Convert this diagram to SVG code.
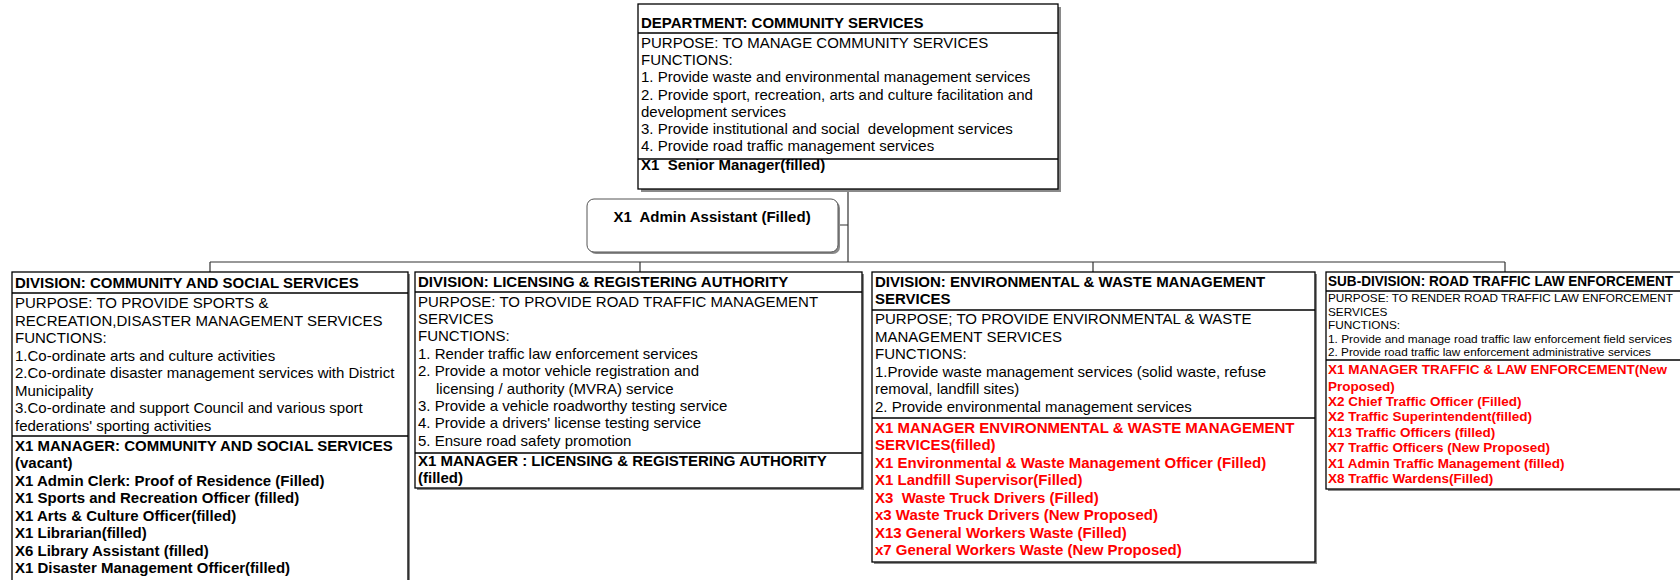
<svg xmlns="http://www.w3.org/2000/svg" width="1680" height="580" viewBox="0 0 1680 580">
<style>
.box{fill:#fff;stroke:#000;stroke-width:1.3}
.sh{fill:#8a8a8a}
.dv{stroke:#000;stroke-width:1.3;fill:none}
.cn{stroke:#333;stroke-width:1.2;fill:none}
text{font-family:"Liberation Sans",Arial,sans-serif;font-size:15px;fill:#000}
.b{font-weight:bold}
.r{font-weight:bold;fill:#f00}
.s{font-size:11.8px}
.rs{font-size:13.5px}
</style>
<rect width="1680" height="580" fill="#fff"/>
<g id="connectors">
<path class="cn" d="M848 190V262M838 225H848M210 262H1505M210 262V272M640 262V272M1093 262V272M1505 262V272"/>
</g>
<g id="dept">
<rect class="sh" x="641" y="7" width="420" height="185"/>
<rect class="box" x="638" y="4" width="420" height="185"/>
<path class="dv" d="M638 33H1058M638 159H1058"/>
<text class="b" x="641" y="27.5">DEPARTMENT: COMMUNITY SERVICES</text>
<text x="641" y="48">PURPOSE: TO MANAGE COMMUNITY SERVICES</text>
<text x="641" y="65.2">FUNCTIONS:</text>
<text x="641" y="82.4">1. Provide waste and environmental management services</text>
<text x="641" y="99.6">2. Provide sport, recreation, arts and culture facilitation and</text>
<text x="641" y="116.8">development services</text>
<text x="641" y="134" xml:space="preserve">3. Provide institutional and social  development services</text>
<text x="641" y="151.2">4. Provide road traffic management services</text>
<text class="b" x="641" y="170" xml:space="preserve">X1  Senior Manager(filled)</text>
</g>
<g id="admin">
<rect class="sh" x="589" y="201" width="251" height="53" rx="7"/>
<rect x="587" y="199" width="251" height="53" rx="7" fill="#fff" stroke="#555" stroke-width="1"/>
<text class="b" x="712" y="222" text-anchor="middle" xml:space="preserve">X1  Admin Assistant (Filled)</text>
</g>
<g id="div-community">
<rect class="sh" x="14" y="274" width="396" height="320"/>
<rect class="box" x="12" y="272" width="396" height="320"/>
<path class="dv" d="M12 293H408M12 436H408"/>
<text class="b" x="15" y="288">DIVISION: COMMUNITY AND SOCIAL SERVICES</text>
<text x="15" y="308">PURPOSE: TO PROVIDE SPORTS &amp;</text>
<text x="15" y="325.5">RECREATION,DISASTER MANAGEMENT SERVICES</text>
<text x="15" y="343">FUNCTIONS:</text>
<text x="15" y="360.5">1.Co-ordinate arts and culture activities</text>
<text x="15" y="378">2.Co-ordinate disaster management services with District</text>
<text x="15" y="395.5">Municipality</text>
<text x="15" y="413">3.Co-ordinate and support Council and various sport</text>
<text x="15" y="430.5">federations' sporting activities</text>
<text class="b" x="15" y="450.5">X1 MANAGER: COMMUNITY AND SOCIAL SERVICES</text>
<text class="b" x="15" y="468">(vacant)</text>
<text class="b" x="15" y="485.5">X1 Admin Clerk: Proof of Residence (Filled)</text>
<text class="b" x="15" y="503">X1 Sports and Recreation Officer (filled)</text>
<text class="b" x="15" y="520.5">X1 Arts &amp; Culture Officer(filled)</text>
<text class="b" x="15" y="538">X1 Librarian(filled)</text>
<text class="b" x="15" y="555.5">X6 Library Assistant (filled)</text>
<text class="b" x="15" y="573">X1 Disaster Management Officer(filled)</text>
</g>
<g id="div-licensing">
<rect class="sh" x="417" y="274" width="447" height="216"/>
<rect class="box" x="415" y="272" width="447" height="216"/>
<path class="dv" d="M415 292H862M415 453H862"/>
<text class="b" x="418" y="286.5">DIVISION: LICENSING &amp; REGISTERING AUTHORITY</text>
<text x="418" y="306.5">PURPOSE: TO PROVIDE ROAD TRAFFIC MANAGEMENT</text>
<text x="418" y="324">SERVICES</text>
<text x="418" y="341.3">FUNCTIONS:</text>
<text x="418" y="358.7">1. Render traffic law enforcement services</text>
<text x="418" y="376">2. Provide a motor vehicle registration and</text>
<text x="436" y="393.5">licensing / authority (MVRA) service</text>
<text x="418" y="411">3. Provide a vehicle roadworthy testing service</text>
<text x="418" y="428.3">4. Provide a drivers' license testing service</text>
<text x="418" y="445.7">5. Ensure road safety promotion</text>
<text class="b" x="418" y="465.5">X1 MANAGER : LICENSING &amp; REGISTERING AUTHORITY</text>
<text class="b" x="418" y="483">(filled)</text>
</g>
<g id="div-environment">
<rect class="sh" x="874" y="274" width="443" height="290"/>
<rect class="box" x="872" y="272" width="443" height="290"/>
<path class="dv" d="M872 310H1315M872 418H1315"/>
<text class="b" x="875" y="286.5">DIVISION: ENVIRONMENTAL &amp; WASTE MANAGEMENT</text>
<text class="b" x="875" y="304">SERVICES</text>
<text x="875" y="324">PURPOSE; TO PROVIDE ENVIRONMENTAL &amp; WASTE</text>
<text x="875" y="341.5">MANAGEMENT SERVICES</text>
<text x="875" y="359">FUNCTIONS:</text>
<text x="875" y="376.5">1.Provide waste management services (solid waste, refuse</text>
<text x="875" y="394">removal, landfill sites)</text>
<text x="875" y="411.5">2. Provide environmental management services</text>
<text class="r" x="875" y="432.5">X1 MANAGER ENVIRONMENTAL &amp; WASTE MANAGEMENT</text>
<text class="r" x="875" y="450">SERVICES(filled)</text>
<text class="r" x="875" y="467.5">X1 Environmental &amp; Waste Management Officer (Filled)</text>
<text class="r" x="875" y="485">X1 Landfill Supervisor(Filled)</text>
<text class="r" x="875" y="502.5" xml:space="preserve">X3  Waste Truck Drivers (Filled)</text>
<text class="r" x="875" y="520">x3 Waste Truck Drivers (New Proposed)</text>
<text class="r" x="875" y="537.5">X13 General Workers Waste (Filled)</text>
<text class="r" x="875" y="555">x7 General Workers Waste (New Proposed)</text>
</g>
<g id="subdiv-traffic">
<rect class="sh" x="1328" y="274" width="370" height="217"/>
<rect class="box" x="1326" y="272" width="370" height="217"/>
<path class="dv" d="M1326 291H1696M1326 360H1696"/>
<text class="b" x="1328" y="285.5" textLength="345" lengthAdjust="spacingAndGlyphs">SUB-DIVISION: ROAD TRAFFIC LAW ENFORCEMENT</text>
<text class="s" x="1328" y="301.5" textLength="345" lengthAdjust="spacingAndGlyphs">PURPOSE: TO RENDER ROAD TRAFFIC LAW ENFORCEMENT</text>
<text class="s" x="1328" y="315.5">SERVICES</text>
<text class="s" x="1328" y="329">FUNCTIONS:</text>
<text class="s" x="1328" y="343" textLength="344" lengthAdjust="spacingAndGlyphs">1. Provide and manage road traffic law enforcement field services</text>
<text class="s" x="1328" y="355.5" textLength="323" lengthAdjust="spacingAndGlyphs">2. Provide road traffic law enforcement administrative services</text>
<text class="r rs" x="1328" y="374">X1 MANAGER TRAFFIC &amp; LAW ENFORCEMENT(New</text>
<text class="r rs" x="1328" y="390.5">Proposed)</text>
<text class="r rs" x="1328" y="406">X2 Chief Traffic Officer (Filled)</text>
<text class="r rs" x="1328" y="421">X2 Traffic Superintendent(filled)</text>
<text class="r rs" x="1328" y="437">X13 Traffic Officers (filled)</text>
<text class="r rs" x="1328" y="452">X7 Traffic Officers (New Proposed)</text>
<text class="r rs" x="1328" y="468">X1 Admin Traffic Management (filled)</text>
<text class="r rs" x="1328" y="483">X8 Traffic Wardens(Filled)</text>
</g>
</svg>
